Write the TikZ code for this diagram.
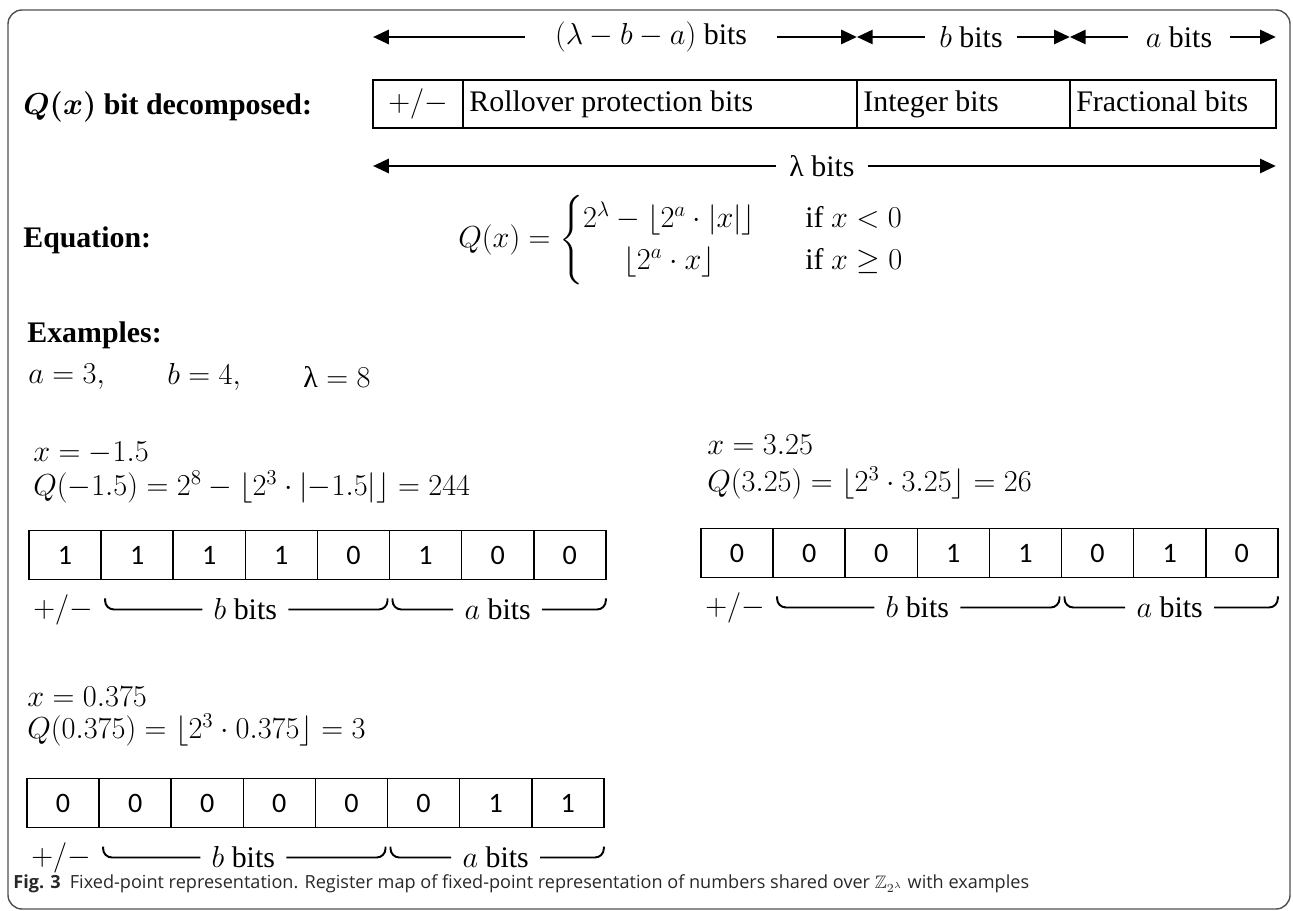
\documentclass[tikz,border=0pt]{standalone}
\usepackage{amsmath,amssymb}
\usepackage{fontspec}
\setmainfont{Liberation Serif}
\newfontfamily\bitfont{Carlito}
\newfontfamily\capfont{Open Sans}
\usepackage{tikz}
\usetikzlibrary{arrows.meta, positioning, calc}
\definecolor{framegray}{RGB}{80,80,80}
\definecolor{capgray}{RGB}{40,40,40}

\begin{document}
\begin{tikzpicture}[x=0.02cm, y=-0.02cm,
    font=\fontsize{17}{20}\selectfont,
    field/.style={rectangle, draw, line width=1.1pt, minimum height=0.96cm,
                  text height=0.88em, text depth=0.05em,
                  inner sep=0pt, outer sep=0pt, anchor=west},
    bitcell/.style={rectangle, draw, line width=0.9pt, minimum width=1.442cm,
                    minimum height=0.98cm, inner sep=0pt, outer sep=0pt,
                    font=\bitfont\fontsize{16}{18}\selectfont},
    dimlbl/.style={inner ysep=0pt},
    dim/.style={-{Triangle[length=9pt, width=8pt]}, line width=1.5pt},
    heading/.style={anchor=west, inner sep=0pt, font=\fontsize{17}{20}\selectfont\bfseries\boldmath},
    plain/.style={anchor=west, inner sep=0pt},
    bracelbl/.style={inner xsep=0.22cm, inner ysep=0pt},
    brace/.style={line width=1.1pt, rounded corners=5pt}
]
\useasboundingbox (0,0) rectangle (1293,911);
\draw[framegray, line width=0.8pt, rounded corners=8pt] (8,10) rectangle (1290,909);

\node[heading] (qlbl) at (23,107) {$Q(x)$ bit decomposed:};
\node[field, minimum width=1.8cm] (sgn) at (373,104) {$+/-$};
\node[field, minimum width=7.88cm, right=0pt of sgn] (roll) {\makebox[7.62cm][l]{Rollover protection bits}};
\node[field, minimum width=4.26cm, right=0pt of roll] (int) {\makebox[4.0cm][l]{Integer bits}};
\node[field, minimum width=4.12cm, right=0pt of int] (frac) {\makebox[3.86cm][l]{Fractional bits}};

\node[dimlbl, inner xsep=0.6cm] (rlen) at (651,37) {$(\lambda-b-a)$ bits};
\node[dimlbl, inner xsep=0.28cm] (blen) at (971,37) {$b$ bits};
\node[dimlbl, inner xsep=0.36cm] (alen) at (1179,37) {$a$ bits};
\node[dimlbl, inner xsep=0.26cm] (llen) at (822,166) {λ bits};
\coordinate (t0) at (sgn.west |- rlen);
\coordinate (t1) at (roll.east |- rlen);
\coordinate (t2) at (int.east |- rlen);
\coordinate (t3) at (frac.east |- rlen);
\coordinate (l0) at (sgn.west |- llen);
\coordinate (l1) at (frac.east |- llen);
\draw[dim] (rlen.west) -- (t0);
\draw[dim] (rlen.east) -- (t1);
\draw[dim] (blen.west) -- (t1);
\draw[dim] (blen.east) -- (t2);
\draw[dim] (alen.west) -- (t2);
\draw[dim] (alen.east) -- (t3);
\draw[dim] (llen.west) -- (l0);
\draw[dim] (llen.east) -- (l1);

\node[heading] (eqlbl) at (23,240) {Equation:};
\node[plain] (eq) at (458,240) {\def\arraystretch{1.2}%
  $Q(x)=\left\{\begin{array}{@{}c@{\hspace{1cm}}l@{}}
    2^{\lambda}-\lfloor 2^{a}\cdot\lvert x\rvert\rfloor & \text{if } x<0\\
    \lfloor 2^{a}\cdot x\rfloor & \text{if } x\geq 0
  \end{array}\right.$};

\node[heading] (exlbl) at (27,335) {Examples:};
\node[plain] (pa) at (28,377) {$a=3,$};
\node[plain] (pb) at (167,377) {$b=4,$};
\node[plain] (pl) at (303,377) {λ${}=8$};

\node[plain] (x1) at (33,453) {$x=-1.5$};
\node[plain] (q1) at (33,487) {$Q(-1.5)=2^8-\lfloor 2^3\cdot\lvert{-1.5}\rvert\rfloor=244$};
\node[plain] (x2) at (707,445) {$x=3.25$};
\node[plain] (q2) at (707,483) {$Q(3.25)=\lfloor 2^3\cdot 3.25\rfloor=26$};
\node[plain] (x3) at (27,697) {$x=0.375$};
\node[plain] (q3) at (27,730) {$Q(0.375)=\lfloor 2^3\cdot 0.375\rfloor=3$};

\foreach \r/\x/\y/\bits in {r1/29/555/{1,1,1,1,0,1,0,0},
                            r2/701/553/{0,0,0,1,1,0,1,0},
                            r3/27/803/{0,0,0,0,0,0,1,1}} {
  \foreach \b [count=\i] in \bits
    \node[bitcell] (\r-\i) at ({\x+72.1*(\i-0.5)},\y) {\b};
  \node[plain] (\r-s) at ($(\r-1.south west)+(4,30)$) {$+/-$};
  \node[bracelbl] (\r-b) at ($(\r-2.south west)!0.5!(\r-5.south east)+(0,30)$) {$b$ bits};
  \node[bracelbl] (\r-a) at ($(\r-6.south west)!0.5!(\r-8.south east)+(0,30)$) {$a$ bits};
  \draw[brace] ($(\r-2.west |- \r-b)+(4,-11)$) |- (\r-b.west);
  \draw[brace] (\r-b.east) -| ($(\r-5.east |- \r-b)+(-2,-11)$);
  \draw[brace] ($(\r-6.west |- \r-a)+(3,-11)$) |- (\r-a.west);
  \draw[brace] (\r-a.east) -| ($(\r-8.east |- \r-a)+(0,-11)$);
}

\node[anchor=west, inner sep=0pt, text=capgray, font=\capfont\fontsize{10.3}{12}\selectfont] (cap) at (13,884)
  {\textbf{Fig. 3}\enspace Fixed-point representation. Register map of fixed-point representation of numbers shared over $\mathbb{Z}_{2^{\lambda}}$ with examples};
\end{tikzpicture}
\end{document}
